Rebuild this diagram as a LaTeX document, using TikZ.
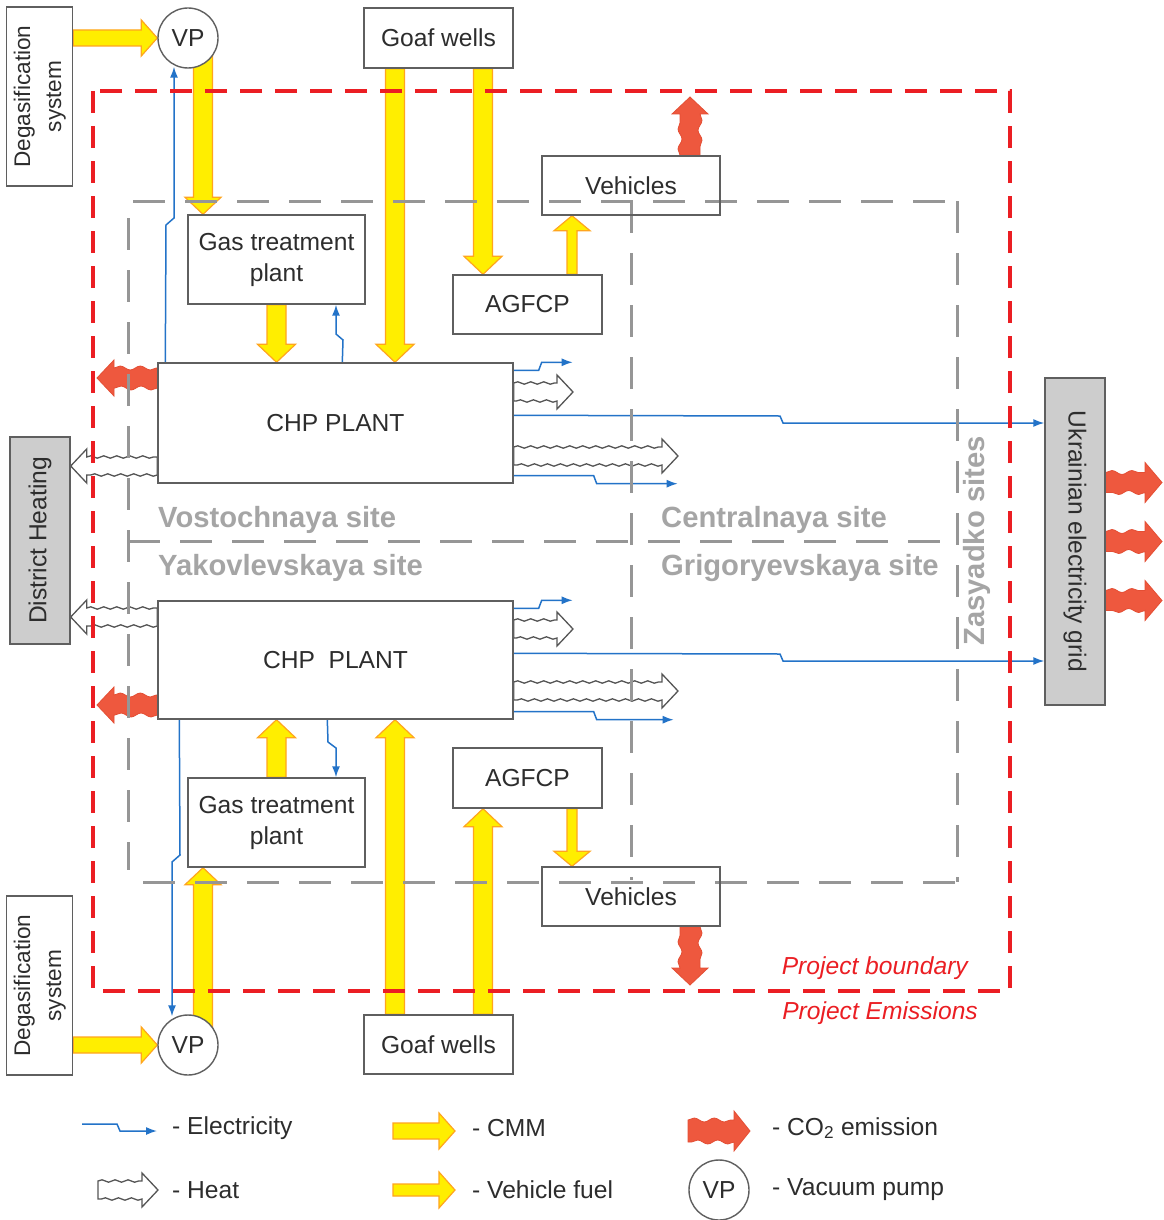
\documentclass[tikz,border=0pt]{standalone}
\usepackage{fontspec}
\setmainfont{Liberation Sans}
\usepackage{graphicx}
\usetikzlibrary{calc,arrows.meta,decorations.pathmorphing,backgrounds}

\definecolor{txt}{RGB}{45,45,45}
\definecolor{boxline}{RGB}{95,95,95}
\definecolor{cmmfill}{RGB}{255,238,0}
\definecolor{cmmline}{RGB}{255,165,30}
\definecolor{co2fill}{RGB}{238,88,62}
\definecolor{co2line}{RGB}{228,78,52}
\definecolor{heatline}{RGB}{85,85,85}
\definecolor{elecblue}{RGB}{35,115,200}
\definecolor{bndred}{RGB}{235,30,35}
\definecolor{sitegray}{RGB}{150,150,150}
\definecolor{sitetext}{RGB}{165,165,165}
\definecolor{boxgray}{RGB}{205,205,205}

\newcommand\fsz{\fontsize{24.6}{31}\selectfont}
% straight block arrow: style, from, to, shaft half width, head half width, head length
\newcommand\blockarrow[6]{%
  \coordinate (ban) at ($(#3)!#6!(#2)$);
  \draw[#1] ($(#2)!#4!90:(#3)$) -- ($(ban)!#4!-90:(#2)$) -- ($(ban)!#5!-90:(#2)$)
    -- (#3) -- ($(ban)!#5!90:(#2)$) -- ($(ban)!#4!90:(#2)$) -- ($(#2)!#4!-90:(#3)$) -- cycle;}
% wavy block arrow
\newcommand\wavyarrow[6]{%
  \coordinate (ban) at ($(#3)!#6!(#2)$);
  \draw[#1] ($(#2)!#4!90:(#3)$) decorate[wavy]{-- ($(ban)!#4!-90:(#2)$)} -- ($(ban)!#5!-90:(#2)$)
    -- (#3) -- ($(ban)!#5!90:(#2)$) -- ($(ban)!#4!90:(#2)$) decorate[wavy]{-- ($(#2)!#4!-90:(#3)$)} -- cycle;}

\begin{document}
\begin{tikzpicture}[x=1pt,y=-1pt,
  box/.style={draw=boxline, line width=1.4pt, font=\fsz, text=txt, inner sep=2pt, align=center},
  graybox/.style={box, fill=boxgray},
  vp/.style={circle, draw=boxline, line width=1.4pt, fill=white, minimum size=60pt, inner sep=0pt, font=\fsz, text=txt},
  reddash/.style={draw=bndred, line width=3.5pt, dash pattern=on 22pt off 13pt},
  graydash/.style={draw=sitegray, line width=3pt, dash pattern=on 32pt off 20pt},
  cmm/.style={fill=cmmfill, draw=cmmline, line width=1.2pt},
  co2/.style={fill=co2fill, draw=co2line, line width=0.8pt,
    wavy/.style={decoration={snake, amplitude=2pt, segment length=20pt}}},
  heat/.style={fill=white, draw=heatline, line width=1.3pt,
    wavy/.style={decoration={snake, amplitude=1.2pt, segment length=13pt}}},
  wavy/.style={decoration={snake, amplitude=1.2pt, segment length=13pt}},
  elec/.style={draw=elecblue, line width=1.5pt, -{Latex[length=11pt,width=8pt]}},
  sitelbl/.style={font=\fontsize{29.2}{33}\selectfont\bfseries, text=sitetext, inner sep=0pt},
  redlbl/.style={font=\fontsize{24.6}{30}\selectfont\itshape, text=bndred, inner sep=0pt},
  legtxt/.style={font=\fsz, text=txt, inner sep=0pt, anchor=west}]
\useasboundingbox (0,0) rectangle (1163,1220);

% boundaries
\draw[reddash] (93,91) rectangle (1010,991);
\draw[graydash] (133,201) -- (957,201);
\draw[graydash] (128,218) -- (128,870);
\draw[graydash] (957,201) -- (957,882);
\draw[graydash] (143,882) -- (957,882);
\draw[graydash] (631,201) -- (631,880);
\draw[graydash] (128,541) -- (957,541);

% site labels
\node[sitelbl, anchor=west] (vost) at (158,520) {Vostochnaya site};
\node[sitelbl, anchor=west] (cent) at (661,520) {Centralnaya site};
\node[sitelbl, anchor=west] (yako) at (158,568) {Yakovlevskaya site};
\node[sitelbl, anchor=west] (grig) at (661,568) {Grigoryevskaya site};
\node[sitelbl, rotate=90] (zas) at (977,541) {Zasyadko sites};
\node[redlbl, anchor=east] (pb) at (968,968) {Project boundary};
\node[redlbl, anchor=east] (pe) at (978,1013) {Project Emissions};

% nodes
\node[box, minimum width=61pt, minimum height=179pt, font=\fontsize{22.6}{31}\selectfont] (deg1) at (39.5,96.5)
  {\rotatebox{90}{\begin{tabular}{@{}c@{}}Degasification\\system\end{tabular}}};
\node[vp] (vp1) at (188,38) {VP};
\node[box, minimum width=149pt, minimum height=60pt] (gw1) at (438.5,38) {Goaf wells};
\node[box, minimum width=178pt, minimum height=59pt] (veh1) at (631,185.5) {Vehicles};
\node[box, minimum width=177pt, minimum height=89pt] (gtp1) at (276.5,259.5) {Gas treatment\\plant};
\node[box, minimum width=149pt, minimum height=59pt] (agf1) at (527.5,304.5) {AGFCP};
\node[box, minimum width=355pt, minimum height=120pt] (chp1) at (335.5,423) {CHP PLANT};
\node[graybox, minimum width=60pt, minimum height=207pt] (dh) at (40,540.5) {\rotatebox{90}{District Heating}};
\node[box, minimum width=355pt, minimum height=118pt] (chp2) at (335.5,660) {CHP\ \ PLANT};
\node[box, minimum width=177pt, minimum height=89pt] (gtp2) at (276.5,822.5) {Gas treatment\\plant};
\node[box, minimum width=149pt, minimum height=60pt] (agf2) at (527.5,778) {AGFCP};
\node[box, minimum width=178pt, minimum height=59pt] (veh2) at (631,896.5) {Vehicles};
\node[box, minimum width=61pt, minimum height=179pt, font=\fontsize{22.6}{31}\selectfont] (deg2) at (39.5,985.5)
  {\rotatebox{90}{\begin{tabular}{@{}c@{}}Degasification\\system\end{tabular}}};
\node[vp] (vp2) at (188,1045) {VP};
\node[box, minimum width=149pt, minimum height=59pt] (gw2) at (438.5,1044.5) {Goaf wells};
\node[graybox, minimum width=60pt, minimum height=327pt] (grid) at (1075,541.5) {\rotatebox{-90}{Ukrainian electricity grid}};

% legend texts
\node[legtxt] (l1t) at (172,1128) {- Electricity};
\node[legtxt] (l2t) at (172,1190) {- Heat};
\node[legtxt] (l3t) at (472,1128) {- CMM};
\node[legtxt] (l4t) at (472,1190) {- Vehicle fuel};
\node[legtxt] (l5t) at (772,1128) {- CO\textsubscript{2} emission};
\node[legtxt] (l6t) at (772,1190) {- Vacuum pump};
\node[vp] (lvp) at (719,1190) {VP};

\begin{scope}[on background layer]
\fill[white] (0,0) rectangle (1163,1220);
% ---- CMM (top)
\coordinate (c1s) at (deg1.east |- vp1.west);
\blockarrow{cmm}{c1s}{vp1.west}{8pt}{18pt}{16pt}
\coordinate (c2s) at ($(vp1.center)+(15,0)$);
\coordinate (c2e) at (gtp1.north -| c2s);
\blockarrow{cmm}{c2s}{c2e}{9.5pt}{18pt}{17pt}
\coordinate (c3s) at ($(gw1.south)+(-43.5,0)$);
\coordinate (c3e) at (chp1.north -| c3s);
\blockarrow{cmm}{c3s}{c3e}{9.5pt}{19pt}{18pt}
\coordinate (c4s) at ($(gw1.south)+(44.5,0)$);
\coordinate (c4e) at (agf1.north -| c4s);
\blockarrow{cmm}{c4s}{c4e}{9.5pt}{19pt}{18pt}
\coordinate (c5e) at (chp1.north -| gtp1.south);
\blockarrow{cmm}{gtp1.south}{c5e}{9.5pt}{19pt}{18pt}
\coordinate (f1s) at ($(agf1.north)+(44.5,0)$);
\coordinate (f1e) at (veh1.south -| f1s);
\blockarrow{cmm}{f1s}{f1e}{5pt}{18pt}{15pt}
% ---- CMM (bottom)
\coordinate (c6s) at (deg2.east |- vp2.west);
\blockarrow{cmm}{c6s}{vp2.west}{8pt}{18pt}{16pt}
\coordinate (c7s) at ($(vp2.center)+(15,0)$);
\coordinate (c7e) at (gtp2.south -| c7s);
\blockarrow{cmm}{c7s}{c7e}{9.5pt}{18pt}{17pt}
\coordinate (c8e) at (chp2.south -| gtp2.north);
\blockarrow{cmm}{gtp2.north}{c8e}{9.5pt}{19pt}{18pt}
\coordinate (c9s) at ($(gw2.north)+(-43.5,0)$);
\coordinate (c9e) at (chp2.south -| c9s);
\blockarrow{cmm}{c9s}{c9e}{9.5pt}{19pt}{18pt}
\coordinate (c10s) at ($(gw2.north)+(44.5,0)$);
\coordinate (c10e) at (agf2.south -| c10s);
\blockarrow{cmm}{c10s}{c10e}{9.5pt}{19pt}{18pt}
\coordinate (f2s) at ($(agf2.south)+(44.5,0)$);
\coordinate (f2e) at (veh2.north -| f2s);
\blockarrow{cmm}{f2s}{f2e}{5pt}{18pt}{15pt}

% ---- CO2 emissions
\coordinate (o1s) at ($(chp1.west)+(0,-45)$);
\coordinate (o1e) at (97,378);
\wavyarrow{co2}{o1s}{o1e}{10pt}{18pt}{17pt}
\coordinate (o2s) at ($(chp2.west)+(0,45)$);
\coordinate (o2e) at (97,705);
\wavyarrow{co2}{o2s}{o2e}{10pt}{18pt}{17pt}
\coordinate (o3s) at ($(veh1.north)+(59,0)$);
\coordinate (o3e) at (690,97);
\wavyarrow{co2}{o3s}{o3e}{10pt}{18pt}{17pt}
\coordinate (o4s) at ($(veh2.south)+(59,0)$);
\coordinate (o4e) at (690,985);
\wavyarrow{co2}{o4s}{o4e}{10pt}{18pt}{17pt}
\coordinate (o5s) at ($(grid.east)+(0,-59)$);
\coordinate (o5e) at (1162,482.5);
\wavyarrow{co2}{o5s}{o5e}{10pt}{20pt}{17pt}
\coordinate (o6e) at (1162,541.5);
\wavyarrow{co2}{grid.east}{o6e}{10pt}{20pt}{17pt}
\coordinate (o7s) at ($(grid.east)+(0,59)$);
\coordinate (o7e) at (1162,600.5);
\wavyarrow{co2}{o7s}{o7e}{10pt}{20pt}{17pt}

% ---- Heat
\coordinate (h1s) at ($(chp1.west)+(0,43)$);
\coordinate (h1e) at (dh.east |- h1s);
\wavyarrow{heat}{h1s}{h1e}{9pt}{17pt}{16pt}
\coordinate (h2s) at ($(chp2.west)+(0,-43)$);
\coordinate (h2e) at (dh.east |- h2s);
\wavyarrow{heat}{h2s}{h2e}{9pt}{17pt}{16pt}
\coordinate (h3s) at ($(chp1.east)+(0,-31)$);
\coordinate (h3e) at (573,392);
\wavyarrow{heat}{h3s}{h3e}{9pt}{17pt}{16pt}
\coordinate (h4s) at ($(chp1.east)+(0,33)$);
\coordinate (h4e) at (678,456);
\wavyarrow{heat}{h4s}{h4e}{9pt}{17pt}{16pt}
\coordinate (h5s) at ($(chp2.east)+(0,-31)$);
\coordinate (h5e) at (573,629);
\wavyarrow{heat}{h5s}{h5e}{9pt}{17pt}{16pt}
\coordinate (h6s) at ($(chp2.east)+(0,31)$);
\coordinate (h6e) at (678,691);
\wavyarrow{heat}{h6s}{h6e}{9pt}{17pt}{16pt}

% ---- Electricity
\coordinate (z1) at (174,218);
\draw[elec] ($(chp1.north west)+(8,0)$) -- (166,225) -- (z1) -- ($(z1 |- vp1.south)+(0,-2)$);
\coordinate (z2) at (336,334);
\draw[elec] ($(chp1.north west)+(185,0)$) -- (343,340) -- (z2) -- (z2 |- gtp1.south);
\coordinate (z3) at (336,748);
\draw[elec] ($(chp2.south west)+(170,0)$) -- (328,742) -- (z3) -- (z3 |- gtp2.north);
\coordinate (z4) at (172,862);
\draw[elec] ($(chp2.south west)+(22,0)$) -- (180,855) -- (z4) -- ($(z4 |- vp2.north)+(0,2)$);

\draw[elec] ($(chp1.north east)+(0,8)$) -- ++(25,0) -- ++(3,-8) -- ++(31,0);
\coordinate (z5) at (783,423);
\draw[elec] ($(chp1.north east)+(0,53)$) -- (780,416) -- (z5) -- (z5 -| grid.west);
\draw[elec] ($(chp1.south east)+(0,-8)$) -- ++(80,0) -- ++(3,8) -- ++(81,0);

\draw[elec] ($(chp2.north east)+(0,8)$) -- ++(25,0) -- ++(3,-8) -- ++(31,0);
\coordinate (z6) at (783,661);
\draw[elec] ($(chp2.north east)+(0,53)$) -- (780,654) -- (z6) -- (z6 -| grid.west);
\draw[elec] ($(chp2.south east)+(0,-8)$) -- ++(80,0) -- ++(3,8) -- ++(77,0);

% ---- Legend symbols
\coordinate (l1a) at (82,1124);
\draw[elec] (l1a) -- ++(35,0) -- ++(3,7) -- ++(37,0);
\coordinate (l2a) at (98,1190);
\coordinate (l2b) at (158,1190);
\wavyarrow{heat}{l2a}{l2b}{9pt}{17pt}{16pt}
\coordinate (l3a) at (393,1131);
\coordinate (l3b) at (455,1131);
\blockarrow{cmm}{l3a}{l3b}{8pt}{18pt}{16pt}
\coordinate (l4a) at (393,1190);
\coordinate (l4b) at (455,1190);
\blockarrow{cmm}{l4a}{l4b}{6pt}{18pt}{16pt}
\coordinate (l5a) at (688,1131);
\coordinate (l5b) at (750,1131);
\wavyarrow{co2}{l5a}{l5b}{11pt}{20pt}{16pt}
\end{scope}
\end{tikzpicture}
\end{document}
